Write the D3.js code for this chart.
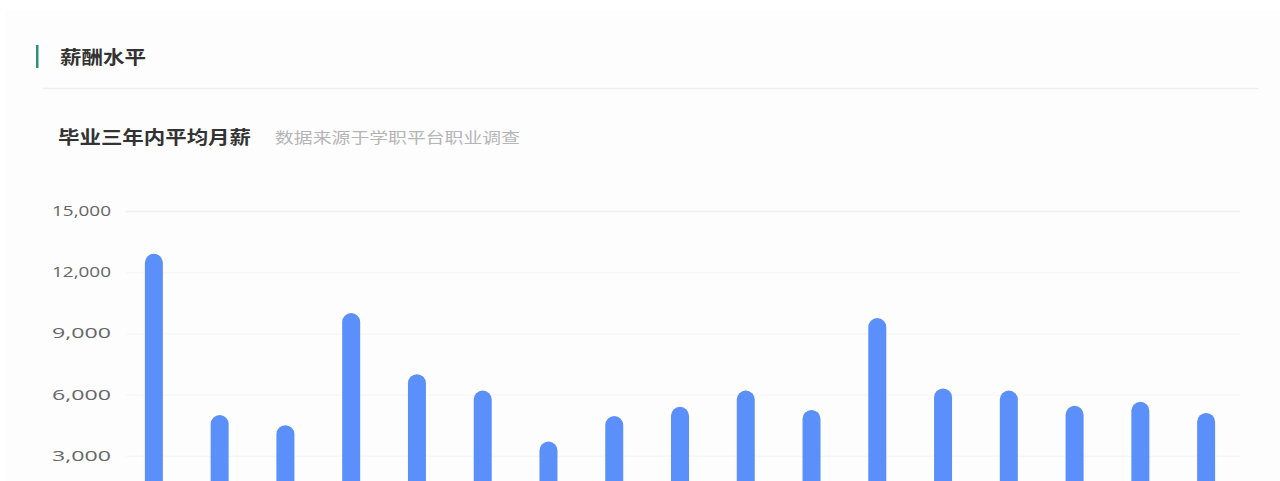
<html>
<head>
<meta charset="utf-8">
<title>薪酬水平</title>
<script src="https://cdnjs.cloudflare.com/ajax/libs/d3/7.8.5/d3.min.js"></script>
<style>
body { margin: 0; background: #fff; font-family: "Noto Sans CJK SC", "Noto Sans", sans-serif; }
svg { display: block; }
</style>
</head>
<body>
<svg id="chart" width="1280" height="481"></svg>
<script>
// categories sit below the visible area in the original screenshot, so only indices are known
var categories = ['1', '2', '3', '4', '5', '6', '7', '8', '9', '10', '11', '12', '13', '14', '15', '16', '17'];
var salary = [12900, 5000, 4500, 10000, 7000, 6200, 3700, 4950, 5400, 6200, 5250, 9750, 6300, 6200, 5450, 5650, 5100];
var yTicks = [3000, 6000, 9000, 12000, 15000];

var svg = d3.select('#chart');

// card background
svg.append('rect').attr('x', 5).attr('y', 10).attr('width', 1275).attr('height', 471).attr('fill', '#fdfdfd');

// section header
svg.append('rect').attr('x', 36).attr('y', 45).attr('width', 2.5).attr('height', 23).attr('fill', '#2e8f7e');
svg.append('text').attr('x', 60).attr('y', 64).text('薪酬水平')
    .attr('font-size', 18).attr('font-weight', 'bold').attr('fill', '#333')
    .attr('textLength', 86).attr('lengthAdjust', 'spacingAndGlyphs');
svg.append('line').attr('x1', 43).attr('x2', 1258).attr('y1', 88.5).attr('y2', 88.5)
    .attr('stroke', '#eeeeee').attr('stroke-width', 1.5);

svg.append('text').attr('x', 58).attr('y', 144).text('毕业三年内平均月薪')
    .attr('font-size', 18).attr('font-weight', 'bold').attr('fill', '#333')
    .attr('textLength', 193).attr('lengthAdjust', 'spacingAndGlyphs');
svg.append('text').attr('x', 275).attr('y', 143).text('数据来源于学职平台职业调查')
    .attr('font-size', 15).attr('fill', '#b5b5b5')
    .attr('textLength', 245).attr('lengthAdjust', 'spacingAndGlyphs');

var x = d3.scaleBand().domain(categories).range([121, 1239]).padding(0);
var y = d3.scaleLinear().domain([0, 15000]).range([517, 211]);

// grid
svg.append('g').selectAll('line').data(yTicks).enter().append('line')
    .attr('x1', 126).attr('x2', 1240)
    .attr('y1', function (d) { return y(d) + 0.5; })
    .attr('y2', function (d) { return y(d) + 0.5; })
    .attr('stroke', function (d) { return d === 15000 ? '#f0f0f0' : '#f7f7f7'; })
    .attr('stroke-width', 1.5);

// y axis labels
var fmt = d3.format(',');
svg.append('g').selectAll('text').data(yTicks).enter().append('text')
    .attr('x', 111).attr('y', function (d) { return y(d) + 5; })
    .attr('text-anchor', 'end')
    .attr('font-family', '"Open Sans", "Noto Sans", sans-serif')
    .attr('font-size', 14).attr('fill', '#666')
    .attr('textLength', 59).attr('lengthAdjust', 'spacingAndGlyphs')
    .text(function (d) { return fmt(d); });

// bars with rounded tops
var bw = 18, r = 9;
svg.append('g').selectAll('path').data(salary).enter().append('path')
    .attr('fill', '#5b8ff9')
    .attr('d', function (d, i) {
        var cx = x(categories[i]) + x.bandwidth() / 2;
        var top = y(d), bottom = y(0);
        var l = cx - bw / 2, rr = cx + bw / 2;
        return 'M' + l + ',' + bottom + 'L' + l + ',' + (top + r) +
            'A' + r + ',' + r + ' 0 0 1 ' + rr + ',' + (top + r) +
            'L' + rr + ',' + bottom + 'Z';
    });
</script>
</body>
</html>
